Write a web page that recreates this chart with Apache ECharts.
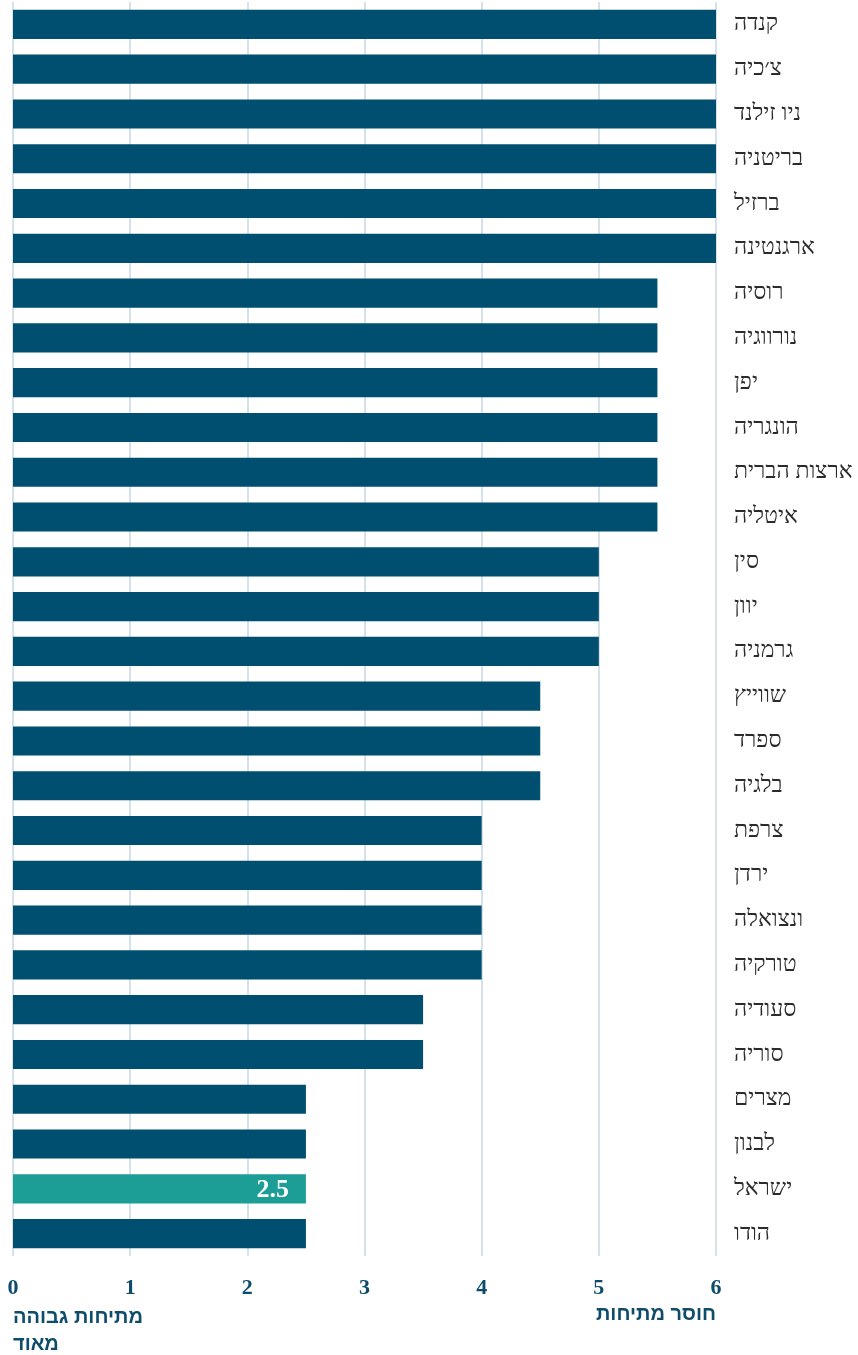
<!DOCTYPE html>
<html>
<head>
<meta charset="utf-8">
<script src="https://cdn.jsdelivr.net/npm/echarts@6/dist/echarts.min.js"></script>
<style>html,body{margin:0;padding:0;background:#fff}#c{width:858px;height:1355px}</style>
</head>
<body>
<div id="c"></div>
<script>
const categories = ['קנדה','צ׳כיה','ניו זילנד','בריטניה','ברזיל','ארגנטינה','רוסיה','נורווגיה','יפן','הונגריה','ארצות הברית','איטליה','סין','יוון','גרמניה','שווייץ','ספרד','בלגיה','צרפת','ירדן','ונצואלה','טורקיה','סעודיה','סוריה','מצרים','לבנון','ישראל','הודו'];
const values = [6,6,6,6,6,6,5.5,5.5,5.5,5.5,5.5,5.5,5,5,5,4.5,4.5,4.5,4,4,4,4,3.5,3.5,2.5,2.5,2.5,2.5];
const highlight = 'ישראל';
const xTicks = [0,1,2,3,4,5,6];
const leftName = ['מתיחות גבוהה', 'מאוד'];
const rightName = 'חוסר מתיחות';

const dark = '#004f71', teal = '#1c9e97';
const chart = echarts.init(document.getElementById('c'));
chart.setOption({
  animation: false,
  grid: {left: 13, right: 142, top: 2, bottom: 99},
  xAxis: {
    type: 'value', min: xTicks[0], max: xTicks[xTicks.length-1], interval: 1,
    axisLine: {show: false}, axisTick: {show: false},
    splitLine: {lineStyle: {color: '#c8d8e2', width: 1.5}},
    axisLabel: {margin: 21, color: '#0d4d6b', fontFamily: 'Liberation Serif', fontWeight: 'bold', fontSize: 22}
  },
  yAxis: {
    type: 'category', data: categories, inverse: true, position: 'right',
    axisLine: {show: false}, axisTick: {show: false},
    axisLabel: {margin: 18, align: 'left', color: '#2b2b2b', fontFamily: 'Liberation Serif', fontSize: 23}
  },
  series: [{
    type: 'bar', barCategoryGap: '35%',
    data: values.map((v, i) => categories[i] === highlight ? {
      value: v, itemStyle: {color: teal},
      label: {show: true, position: 'insideRight', offset: [-12, 1], color: '#fff', fontFamily: 'Liberation Serif', fontWeight: 'bold', fontSize: 26}
    } : {value: v}),
    itemStyle: {color: dark}
  }],
  graphic: [
    {type: 'text', left: 13, top: 1304, style: {text: leftName.join('\n'), fill: '#0d4d6b', font: 'bold 20px "Liberation Sans"', lineHeight: 27, align: 'left'}},
    {type: 'text', right: 142, top: 1304, style: {text: rightName, fill: '#0d4d6b', font: 'bold 20px "Liberation Sans"', align: 'right'}}
  ]
});
</script>
</body>
</html>
